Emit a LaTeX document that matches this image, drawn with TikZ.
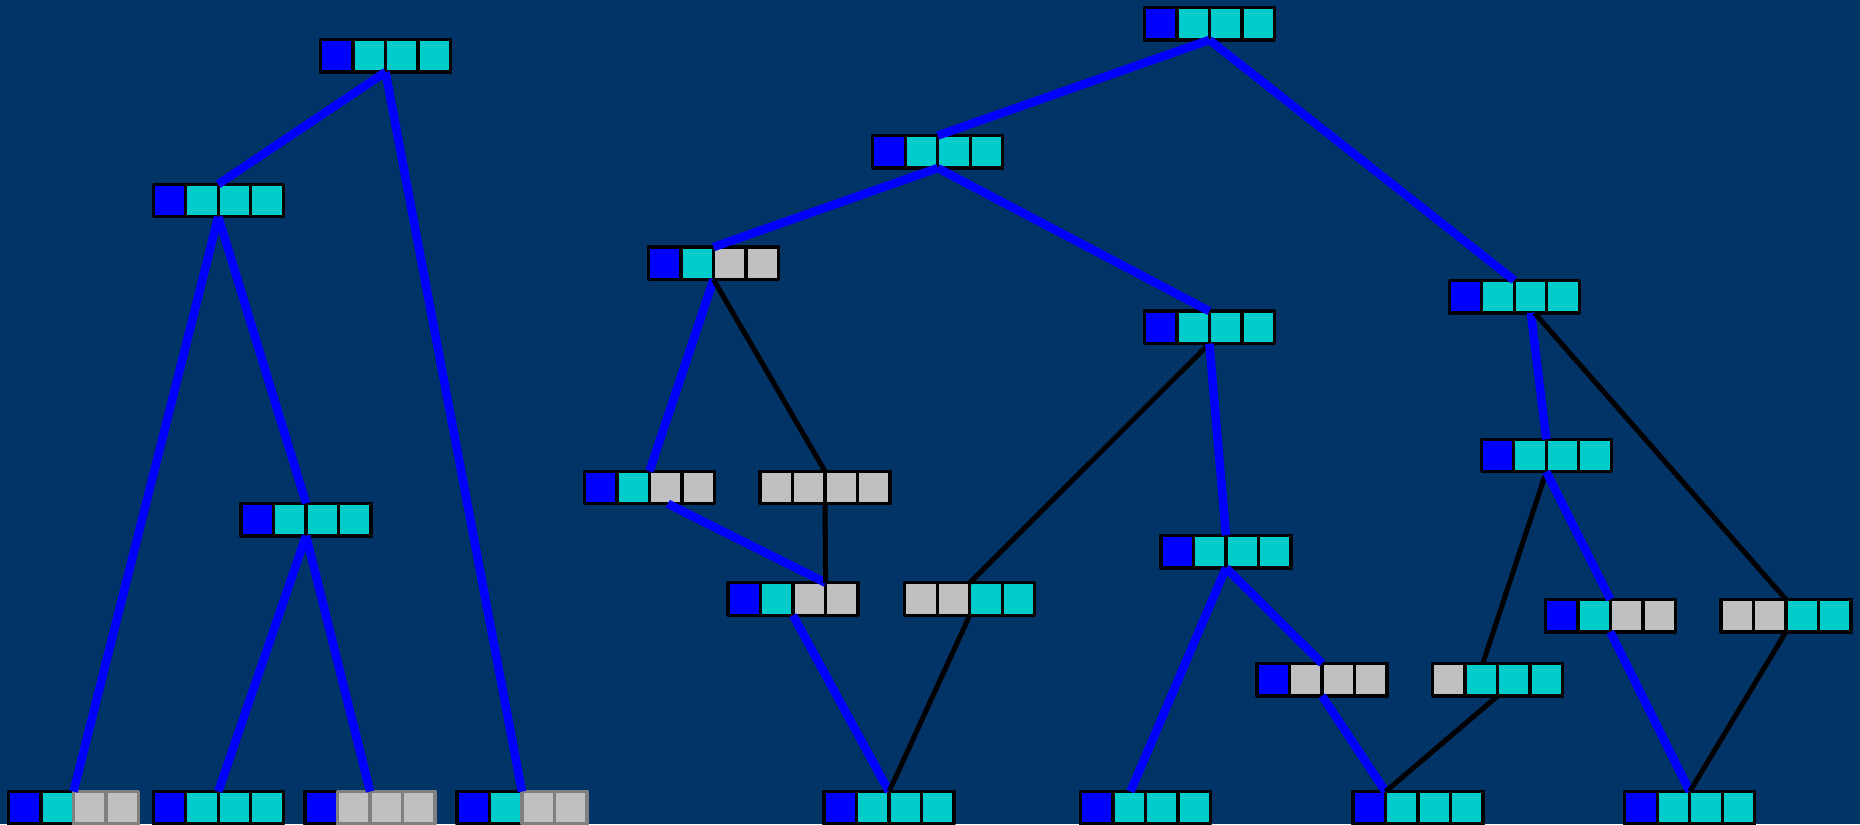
\documentclass[tikz,border=0pt]{standalone}
\usetikzlibrary{calc}
\definecolor{bgnavy}{RGB}{0,51,102}
\definecolor{cellblue}{RGB}{0,0,255}
\definecolor{cellcyan}{RGB}{0,204,204}
\definecolor{cellgray}{RGB}{192,192,192}
\definecolor{edgegray}{RGB}{128,128,128}
\tikzset{
  rowbox/.style={rectangle, minimum width=130pt, minimum height=32.5pt, inner sep=0pt, outer sep=0pt},
  cellbox/.style={rectangle, minimum width=32.5pt, minimum height=32.5pt, inner sep=0pt, outer sep=0pt, line width=3.4pt, line join=round},
  cb/.style={cellbox, fill=cellblue, draw=black},
  cc/.style={cellbox, fill=cellcyan, draw=black},
  cg/.style={cellbox, fill=cellgray, draw=black},
  cq/.style={cellbox, fill=cellgray, draw=edgegray},
  hot/.style={draw=cellblue, line width=8.5pt},
  cold/.style={draw=black, line width=5pt},
}
\newcommand{\cellrow}[6]{%
  \node[rowbox] (#1) at (#2) {};
  \node[#3] (#1-a) at ([xshift=-48.75pt]#1.center) {};
  \node[#4] (#1-b) at ([xshift=-16.25pt]#1.center) {};
  \node[#5] (#1-c) at ([xshift=16.25pt]#1.center) {};
  \node[#6] (#1-d) at ([xshift=48.75pt]#1.center) {};
}
\begin{document}
\begin{tikzpicture}[x=1.1862pt, y=-1.1862pt]
\fill[bgnavy] (0,0) rectangle (1568,695);
\useasboundingbox (0,0) rectangle (1568,695);

% left tree
\cellrow{N1}{325,47}{cb}{cc}{cc}{cc}
\cellrow{N2}{184,169}{cb}{cc}{cc}{cc}
\cellrow{N3}{258,438}{cb}{cc}{cc}{cc}
\cellrow{L1}{62,681}{cb}{cc}{cq}{cq}
\cellrow{L2}{184,681}{cb}{cc}{cc}{cc}
\cellrow{L3}{312,681}{cb}{cq}{cq}{cq}
\cellrow{L4}{440,681}{cb}{cc}{cq}{cq}

% right tree
\cellrow{R1}{1019.5,20}{cb}{cc}{cc}{cc}
\cellrow{R2}{790.5,128}{cb}{cc}{cc}{cc}
\cellrow{R3}{1276.5,250}{cb}{cc}{cc}{cc}
\cellrow{A}{601.5,222}{cb}{cc}{cg}{cg}
\cellrow{B}{1019.5,276}{cb}{cc}{cc}{cc}
\cellrow{C}{547.5,411}{cb}{cc}{cg}{cg}
\cellrow{D}{695.5,411}{cg}{cg}{cg}{cg}
\cellrow{E}{668.5,505}{cb}{cc}{cg}{cg}
\cellrow{F}{817.5,505}{cg}{cg}{cc}{cc}
\cellrow{G}{1033.5,465}{cb}{cc}{cc}{cc}
\cellrow{H}{1114.5,573}{cb}{cg}{cg}{cg}
\cellrow{I}{1262.5,573}{cg}{cc}{cc}{cc}
\cellrow{R4}{1303.5,384}{cb}{cc}{cc}{cc}
\cellrow{K}{1357.5,519}{cb}{cc}{cg}{cg}
\cellrow{J}{1505.5,519}{cg}{cg}{cc}{cc}
\cellrow{L5}{749.5,681}{cb}{cc}{cc}{cc}
\cellrow{L6}{965.5,681}{cb}{cc}{cc}{cc}
\cellrow{L7}{1195.5,681}{cb}{cc}{cc}{cc}
\cellrow{L8}{1424.5,681}{cb}{cc}{cc}{cc}

% left tree edges
\draw[hot] (N1.south) -- (N2.north);
\draw[hot] (N1.south) -- (L4.north);
\draw[hot] (N2.south) -- (L1.north);
\draw[hot] (N2.south) -- (N3.north);
\draw[hot] (N3.south) -- (L2.north);
\draw[hot] (N3.south) -- (L3.north);

% right tree edges
\draw[hot] (R1.south) -- (R2.north);
\draw[hot] (R1.south) -- (R3.north);
\draw[hot] (R2.south) -- (A.north);
\draw[hot] (R2.south) -- (B.north);
\draw[hot] (A.south) -- (C.north);
\draw[cold] (A.south) -- (D.north);
\draw[hot] ($(C.south)+(15.5,0)$) -- ($(E.north)+(27.5,0)$);
\draw[cold] (D.south) -- ($(E.north)+(27.5,0)$);
\draw[hot] (E.south) -- (L5.north);
\draw[cold] (B.south) -- (F.north);
\draw[cold] (F.south) -- (L5.north);
\draw[hot] (B.south) -- (G.north);
\draw[hot] (G.south) -- ($(L6.north)+(-12.5,0)$);
\draw[hot] (G.south) -- (H.north);
\draw[hot] (H.south) -- ($(L7.north)+(-27.5,0)$);
\draw[cold] (I.south) -- ($(L7.north)+(-27.5,0)$);
\draw[hot] ($(R3.south)+(14,0)$) -- (R4.north);
\draw[cold] ($(R3.south)+(17,0)$) -- (J.north);
\draw[cold] (R4.south) -- ($(I.north)+(-12.5,0)$);
\draw[hot] (R4.south) -- (K.north);
\draw[hot] (K.south) -- (L8.north);
\draw[cold] (J.south) -- (L8.north);
\end{tikzpicture}
\end{document}
